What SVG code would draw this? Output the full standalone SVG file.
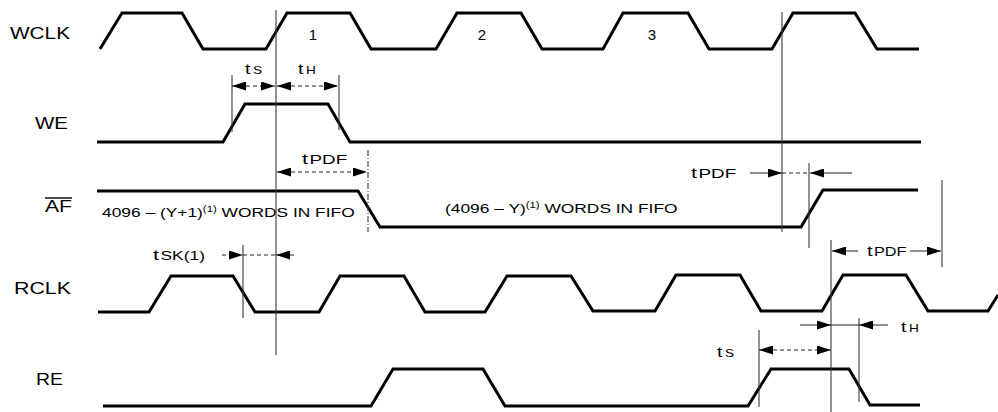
<svg xmlns="http://www.w3.org/2000/svg" width="998" height="412" viewBox="0 0 998 412">
<style>
  .wave { fill: none; stroke: #000; stroke-width: 3; stroke-linejoin: miter; }
  .vl { stroke: #3a3a3a; stroke-width: 1.1; fill: none; }
  .vd { stroke: #3a3a3a; stroke-width: 1.1; stroke-dasharray: 6 2 1 2; fill: none; }
  .dim { stroke: #222; stroke-width: 1; stroke-dasharray: 4 3; fill: none; }
  .arr { stroke: #222; stroke-width: 1; fill: none; }
  .lbl { font-family: "Liberation Sans", Arial, sans-serif; font-size: 16.5px; fill: #000; }
  .num { font-family: "Liberation Sans", Arial, sans-serif; font-size: 15px; fill: #000; text-anchor: middle; }
  .txt { font-family: "Liberation Sans", Arial, sans-serif; font-size: 13px; fill: #000; }
  .sup { font-size: 8.5px; }
  .tm { font-family: "Liberation Sans", Arial, sans-serif; font-size: 15px; fill: #000; }
  .s10 { font-size: 10.5px; }
  .s12 { font-size: 12px; }
  .s13 { font-size: 13px; }
</style>
<defs>
  <marker id="ah" viewBox="0 0 14 9" refX="14" refY="4.5" markerWidth="14" markerHeight="9" markerUnits="userSpaceOnUse" orient="auto-start-reverse">
    <path d="M0,0 L14,4.5 L0,9 z" fill="#000"/>
  </marker>
</defs>

<g id="wclk">
  <text class="lbl" x="10" y="39" textLength="60" lengthAdjust="spacingAndGlyphs">WCLK</text>
  <path class="wave" d="M100,49 L122,13 L182,13 L203,49 L266,49 L287,13 L350,13 L371,49 L436,49 L457,13 L521,13 L542,49 L603,49 L623,13 L688,13 L709,49 L772,49 L793,13 L855,13 L877,49 L919,49"/>
  <text class="num" x="313" y="40">1</text>
  <text class="num" x="482" y="40">2</text>
  <text class="num" x="652" y="40">3</text>
</g>

<g id="we">
  <text class="lbl" x="35" y="129" textLength="33" lengthAdjust="spacingAndGlyphs">WE</text>
  <path class="wave" d="M97,142 L223,142 L245,104 L328,104 L350,142 L921,142"/>
</g>

<g id="af">
  <text class="lbl" x="45" y="212" textLength="27" lengthAdjust="spacingAndGlyphs">AF</text>
  <line x1="45" y1="198" x2="72" y2="198" stroke="#000" stroke-width="1.4"/>
  <path class="wave" d="M97,191 L358,191 L380,227 L801,227 L823,190 L918,190"/>
  <text class="txt" transform="translate(102,217) scale(1.337,1)">4096 – (Y+1)<tspan class="sup" dy="-5">(1)</tspan><tspan dy="5"> WORDS IN FIFO</tspan></text>
  <text class="txt" transform="translate(445,213) scale(1.337,1)">(4096 – Y)<tspan class="sup" dy="-5">(1)</tspan><tspan dy="5"> WORDS IN FIFO</tspan></text>
</g>

<g id="rclk">
  <text class="lbl" x="14" y="294" textLength="57" lengthAdjust="spacingAndGlyphs">RCLK</text>
  <path class="wave" d="M98,312 L149,312 L171,276 L233,276 L255,312 L319,312 L340,276 L404,276 L425,312 L485,312 L507,276 L571,276 L593,311 L655,311 L676,275 L740,275 L761,311 L822,311 L843,275 L906,275 L928,311 L988,311 L998,295"/>
</g>

<g id="re">
  <text class="lbl" x="36" y="385" textLength="27" lengthAdjust="spacingAndGlyphs">RE</text>
  <path class="wave" d="M103,406 L371,406 L393,369 L483,369 L505,406 L748,406 L771,369 L849,369 L870,405 L920,405"/>
</g>

<g id="connectors">
  <line class="vl" x1="276" y1="10" x2="276" y2="355"/>
  <line class="vl" x1="782" y1="12" x2="782" y2="232"/>
  <line class="vl" x1="831" y1="240" x2="831" y2="412"/>
  <line class="vl" x1="232" y1="75" x2="232" y2="132"/>
  <line class="vl" x1="339" y1="75" x2="339" y2="130"/>
  <line class="vd" x1="368" y1="150" x2="368" y2="232"/>
  <line class="vl" x1="809" y1="163" x2="809" y2="248"/>
  <line class="vl" x1="942" y1="180" x2="942" y2="267"/>
  <line class="vl" x1="243" y1="245" x2="243" y2="318"/>
  <line class="vl" x1="759" y1="330" x2="759" y2="407"/>
  <line class="vl" x1="859" y1="318" x2="859" y2="402"/>

  <line class="dim" x1="232" y1="86" x2="275" y2="86" marker-start="url(#ah)" marker-end="url(#ah)"/>
  <line class="dim" x1="277" y1="86" x2="338" y2="86" marker-start="url(#ah)" marker-end="url(#ah)"/>
  <line class="dim" x1="277" y1="172" x2="367" y2="172" marker-start="url(#ah)" marker-end="url(#ah)"/>
  <line class="dim" x1="222" y1="255" x2="243" y2="255" marker-end="url(#ah)"/>
  <line class="dim" x1="243" y1="255" x2="276" y2="255"/>
  <line class="arr" x1="294" y1="255" x2="276" y2="255" marker-end="url(#ah)"/>
  <line class="arr" x1="750" y1="173" x2="782" y2="173" marker-end="url(#ah)"/>
  <line class="dim" x1="782" y1="173" x2="809" y2="173"/>
  <line class="arr" x1="852" y1="173" x2="810" y2="173" marker-end="url(#ah)"/>
  <line class="arr" x1="858" y1="251" x2="832" y2="251" marker-end="url(#ah)"/>
  <line class="arr" x1="910" y1="251" x2="941" y2="251" marker-end="url(#ah)"/>
  <line class="arr" x1="800" y1="325" x2="831" y2="325" marker-end="url(#ah)"/>
  <line class="arr" x1="831" y1="325" x2="859" y2="325"/>
  <line class="arr" x1="888" y1="325" x2="859" y2="325" marker-end="url(#ah)"/>
  <line class="dim" x1="759" y1="350" x2="831" y2="350" marker-start="url(#ah)" marker-end="url(#ah)"/>
</g>

<g id="timing-labels">
  <text class="tm" transform="translate(245,74) scale(1.3,1)">t<tspan class="s10" dx="2">S</tspan></text>
  <text class="tm" transform="translate(298,74) scale(1.3,1)">t<tspan class="s10" dx="2">H</tspan></text>
  <text class="tm" transform="translate(302,164) scale(1.45,1)">t<tspan class="s13" dx="1">PDF</tspan></text>
  <text class="tm" transform="translate(153,260) scale(1.45,1)">t<tspan class="s12" dx="1">SK(1)</tspan></text>
  <text class="tm" transform="translate(691,178) scale(1.45,1)">t<tspan class="s13" dx="1">PDF</tspan></text>
  <text class="tm" transform="translate(867,256) scale(1.35,1)">t<tspan class="s12" dx="1">PDF</tspan></text>
  <text class="tm" transform="translate(901,332) scale(1.3,1)">t<tspan class="s10" dx="2">H</tspan></text>
  <text class="tm" transform="translate(717,357) scale(1.3,1)">t<tspan class="s10" dx="2">S</tspan></text>
</g>
</svg>
